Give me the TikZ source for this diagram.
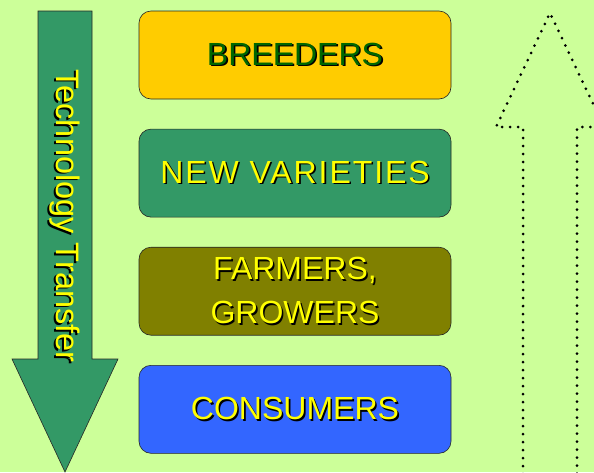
\documentclass[tikz,border=0pt]{standalone}
\usepackage{fontspec}
\setmainfont{Liberation Sans}
\usetikzlibrary{positioning}
\definecolor{pagegreen}{HTML}{CCFF99}
\definecolor{breedgold}{HTML}{FFCC00}
\definecolor{seagreen}{HTML}{339966}
\definecolor{olivebox}{HTML}{808000}
\definecolor{consblue}{HTML}{3366FF}
\definecolor{textyellow}{HTML}{FFFF00}
\definecolor{textgreen}{HTML}{006600}
\newcommand{\shadowed}[2]{\rlap{\kern1.6pt\raisebox{-1.6pt}{\color{black}#2}}\textcolor{#1}{#2}}
\tikzstyle{stage} = [rectangle, rounded corners=12pt, minimum width=312pt, minimum height=88pt, inner sep=0pt, text centered, draw=black!85, line width=0.6pt, align=center, font=\fontsize{32}{44}\selectfont]
\tikzstyle{bigarrow} = [fill=seagreen, draw=black!85, line width=0.6pt]
\tikzstyle{dotarrow} = [draw=black, line width=3pt, line cap=round, dash pattern=on 0pt off 8pt]

\begin{document}
\begin{tikzpicture}[x=1pt, y=-1pt, node distance=29.5pt] % one unit = one pixel of the slide

% Background of the slide
\fill[pagegreen] (0,0) rectangle (594,472);
\useasboundingbox (0,0) rectangle (594,472);
\clip (0,0) rectangle (594,472);

% Arrow going down on the left
\draw [bigarrow] (38,11) -- (92,11) -- (92,359) -- (118,359) -- (65,472) -- (12,359) -- (38,359) -- cycle;
\node(transfer)     [rotate=-90, font=\fontsize{32.5}{36}\selectfont] at (64,216) {\shadowed{textyellow}{Technology Transfer}};

% Place the nodes in one column
\node(breeders)     [stage, fill=breedgold] at (295,55) {\shadowed{textgreen}{BREEDERS}};
\node(varieties)    [stage, fill=seagreen, below=of breeders]  {\addfontfeature{LetterSpace=6}\shadowed{textyellow}{NEW VARIETIES}};
\node(farmers)      [stage, fill=olivebox, below=of varieties] {\shadowed{textyellow}{FARMERS,}\\\shadowed{textyellow}{GROWERS}};
\node(consumers)    [stage, fill=consblue, below=of farmers]   {\shadowed{textyellow}{CONSUMERS}};

% Dotted arrow going up on the right
\draw [dotarrow] (523,490) -- (523,127) -- (496,127) -- (550,13) -- (604,127) -- (577,127) -- (577,490);

\end{tikzpicture}
\end{document}
